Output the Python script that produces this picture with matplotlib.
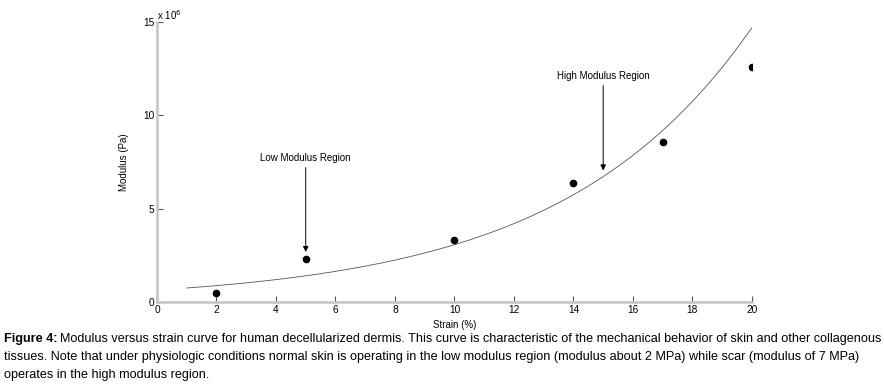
import numpy as np
import matplotlib
matplotlib.use('Agg')
import matplotlib.pyplot as plt
from matplotlib import font_manager
from matplotlib.ticker import FuncFormatter

# puntos medidos
strain = [2, 5, 10, 14, 17, 20]
modulus = [0.5e6, 2.3e6, 3.3e6, 6.4e6, 8.6e6, 12.6e6]

# curva de ajuste (cada 0.5 %)
curve_strain = [1, 1.5, 2, 2.5, 3, 3.5, 4, 4.5, 5, 5.5, 6, 6.5, 7, 7.5, 8, 8.5,
                9, 9.5, 10, 10.5, 11, 11.5, 12, 12.5, 13, 13.5, 14, 14.5, 15,
                15.5, 16, 16.5, 17, 17.5, 18, 18.5, 19, 19.5, 20]
curve_modulus = [0.750e6, 0.811e6, 0.877e6, 0.949e6, 1.026e6, 1.110e6, 1.200e6,
                 1.298e6, 1.404e6, 1.518e6, 1.642e6, 1.775e6, 1.920e6, 2.076e6,
                 2.245e6, 2.428e6, 2.626e6, 2.840e6, 3.071e6, 3.321e6, 3.592e6,
                 3.884e6, 4.200e6, 4.543e6, 4.913e6, 5.313e6, 5.745e6, 6.213e6,
                 6.719e6, 7.267e6, 7.858e6, 8.498e6, 9.191e6, 9.939e6, 10.749e6,
                 11.624e6, 12.571e6, 13.595e6, 14.702e6]

x_ticks = [0, 2, 4, 6, 8, 10, 12, 14, 16, 18, 20]
y_ticks = [0, 5e6, 10e6, 15e6]

names = set(f.name for f in font_manager.fontManager.ttflist)
caption_font = 'Liberation Sans Narrow' if 'Liberation Sans Narrow' in names else 'Liberation Sans'
plot_font = 'Liberation Sans'

fig = plt.figure(figsize=(8.84, 3.85), dpi=100)
ax = fig.add_axes([0.1776, 0.2156, 0.673, 0.727])

ax.plot(curve_strain, curve_modulus, color='#555555', lw=0.6)
ax.plot(strain, modulus, 'o', color='black', markersize=4.5)

ax.set_xlim(0, 20)
ax.set_ylim(0, 15e6)
ax.set_xticks(x_ticks)
ax.set_yticks(y_ticks)
ax.yaxis.set_major_formatter(FuncFormatter(lambda v, p: '%g' % (v / 1e6)))
ax.text(0.0, 1.0, 'x 10$^6$', transform=ax.transAxes, fontsize=7,
        family=plot_font, ha='left', va='bottom')

for s in ['top', 'right']:
    ax.spines[s].set_visible(False)
for s in ['left', 'bottom']:
    ax.spines[s].set_color('#c4c4c4')
    ax.spines[s].set_linewidth(1.8)
ax.tick_params(direction='in', length=4, width=0.8, color='#555555',
               labelsize=7.3, pad=2)
for lab in ax.get_xticklabels() + ax.get_yticklabels():
    lab.set_family(plot_font)

ax.set_xlabel('Strain (%)', fontsize=7, family=plot_font, labelpad=4)
ax.set_ylabel('Modulus (Pa)', fontsize=7, family=plot_font, labelpad=10)

ax.annotate('', xy=(5, 2.68e6), xytext=(5, 7.2e6),
            arrowprops=dict(arrowstyle='-|>', color='black', lw=0.7,
                            mutation_scale=8, shrinkA=0, shrinkB=0))
ax.text(5, 7.45e6, 'Low Modulus Region', fontsize=7, family=plot_font,
        ha='center', va='bottom')
ax.annotate('', xy=(15, 7.05e6), xytext=(15, 11.6e6),
            arrowprops=dict(arrowstyle='-|>', color='black', lw=0.7,
                            mutation_scale=8, shrinkA=0, shrinkB=0))
ax.text(15, 11.85e6, 'High Modulus Region', fontsize=7, family=plot_font,
        ha='center', va='bottom')

# pie de figura
cap_size = 9.05
t1 = fig.text(0.004, 1 - 339 / 385, 'Figure 4:', fontsize=cap_size,
              family=caption_font, weight='bold', va='center')
fig.canvas.draw()
bb = t1.get_window_extent()
fig.text((bb.x1 + 3) / fig.bbox.width, 1 - 339 / 385,
         'Modulus versus strain curve for human decellularized dermis. This curve is '
         'characteristic of the mechanical behavior of skin and other collagenous',
         fontsize=cap_size, family=caption_font, va='center')
fig.text(0.004, 1 - 357 / 385,
         'tissues. Note that under physiologic conditions normal skin is operating in the '
         'low modulus region (modulus about 2 MPa) while scar (modulus of 7 MPa)',
         fontsize=cap_size, family=caption_font, va='center')
fig.text(0.004, 1 - 375 / 385, 'operates in the high modulus region.',
         fontsize=cap_size, family=caption_font, va='center')

fig.savefig('out.png', dpi=100)
